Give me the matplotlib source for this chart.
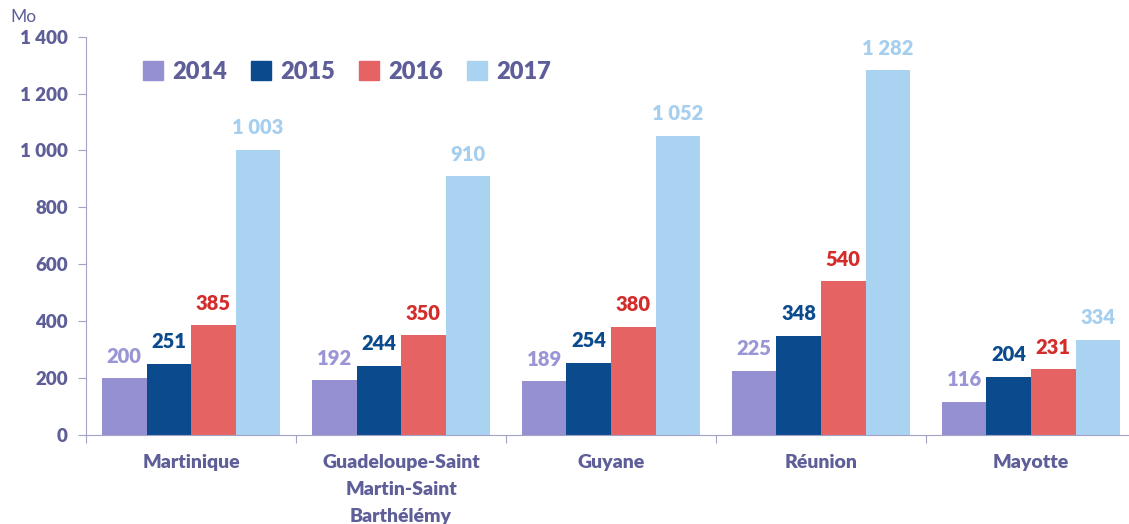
import numpy as np
import matplotlib.pyplot as plt
from matplotlib.patches import Patch

# Donnees
regions = ["Martinique", "Guadeloupe-Saint\nMartin-Saint\nBarthélémy", "Guyane", "Réunion", "Mayotte"]
annees = ["2014", "2015", "2016", "2017"]
v2014 = [200, 192, 189, 225, 116]
v2015 = [251, 244, 254, 348, 204]
v2016 = [385, 350, 380, 540, 231]
v2017 = [1003, 910, 1052, 1282, 334]
y_ticks = [0, 200, 400, 600, 800, 1000, 1200, 1400]

couleurs = ["#9590D2", "#0B4B8D", "#E66363", "#AAD2F1"]
couleurs_txt = ["#9A96D6", "#0B4B8D", "#D42B2B", "#A6CFEF"]
gris = "#5E5E98"
axe = "#A3A3C6"
poids = "heavy"

plt.rcParams['font.family'] = ['Lato', 'DejaVu Sans']

fig = plt.figure(figsize=(11.29, 5.24), dpi=100)
ax = fig.add_axes([0.0762, 0.170, 0.930, 0.760])

x = np.arange(len(regions))
largeur = 0.212
series = [v2014, v2015, v2016, v2017]
for i, vals in enumerate(series):
    pos = x + (i - 1.5) * largeur
    ax.bar(pos, vals, width=largeur, color=couleurs[i], zorder=2)
    for px, v in zip(pos, vals):
        txt = "{:,}".format(v).replace(",", " ")
        ax.annotate(txt, (px, v), xytext=(0, 9), textcoords="offset points",
                    ha="center", va="bottom", fontsize=14.5, fontweight=poids,
                    color=couleurs_txt[i])

ax.set_xlim(-0.5, len(regions) - 0.5)
ax.set_ylim(0, 1400)
ax.set_yticks(y_ticks)
ax.set_yticklabels(["{:,}".format(t).replace(",", " ") for t in y_ticks],
                   fontsize=13.5, fontweight=poids, color=gris)

# ticks x aux limites de groupes, etiquettes au centre
ax.set_xticks(np.arange(len(regions) + 1) - 0.5)
ax.set_xticklabels([])
ax.set_xticks(x, minor=True)
ax.set_xticklabels(regions, minor=True, fontsize=14, fontweight=poids,
                   color=gris, linespacing=1.7, va="top")
ax.tick_params(axis="x", which="minor", length=0, pad=14)
ax.tick_params(axis="x", which="major", length=6, color=axe, direction="out")
ax.tick_params(axis="y", length=6, color=axe, pad=7)

for s in ["top", "right"]:
    ax.spines[s].set_visible(False)
ax.spines["left"].set_color(axe)
ax.spines["bottom"].set_color(axe)

handles = [Patch(color=c, label=a) for c, a in zip(couleurs, annees)]
leg = ax.legend(handles=handles, ncol=4, frameon=False, loc="upper left",
                bbox_to_anchor=(0.034, 0.993), handlelength=0.85, handleheight=0.85,
                handletextpad=0.4, columnspacing=1.0,
                prop={"family": "Lato", "weight": poids, "size": 17})
for t in leg.get_texts():
    t.set_color(gris)

fig.text(0.009, 0.958, "Mo", fontsize=12.5, color=gris)

fig.savefig("out.png", dpi=100)
